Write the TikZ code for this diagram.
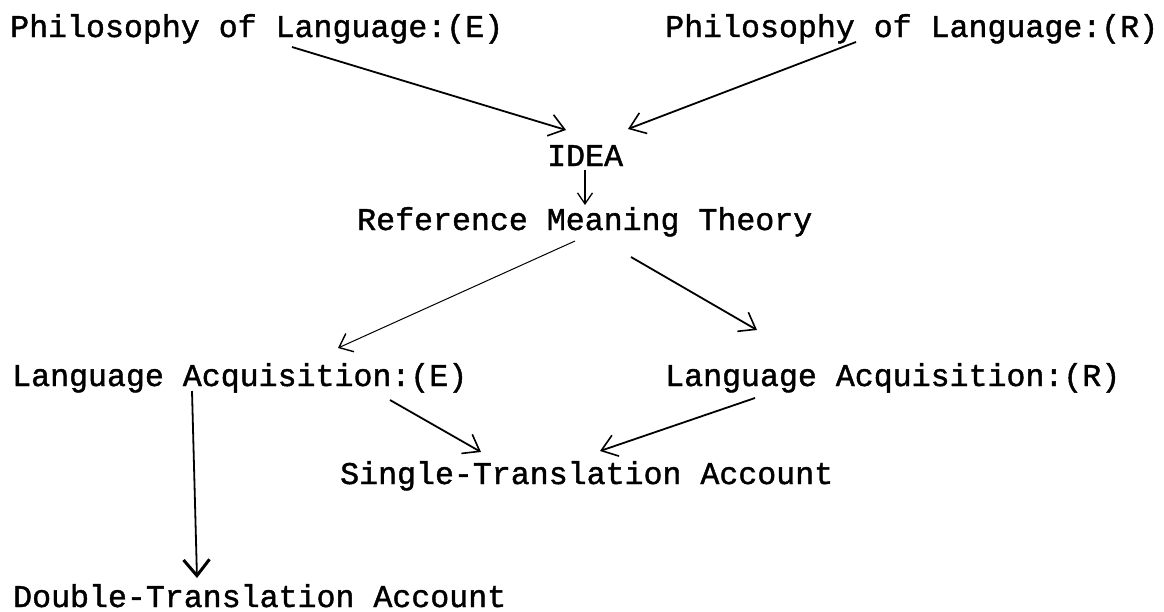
\documentclass[tikz,border=0pt]{standalone}
\usepackage{fontspec}
\setmainfont[RawFeature={embolden=1.3}]{Liberation Mono}
\usetikzlibrary{arrows.meta,calc}
\tikzset{
  lbl/.style={anchor=base west, inner sep=0pt, font=\fontsize{31.6}{34}\selectfont},
  arr/.style={line width=1.8pt, -{Straight Barb[length=15pt,width=22pt,line width=1.6pt]}},
  thinarr/.style={line width=1pt, -{Straight Barb[length=12pt,width=20pt,line width=1.4pt]}},
  smallarr/.style={line width=1.3pt, -{Straight Barb[length=11pt,width=15pt,line width=1.3pt]}},
  heavyarr/.style={line width=1.8pt, -{Straight Barb[length=16pt,width=26pt,line width=3pt]}}
}
\begin{document}
\begin{tikzpicture}[x=1pt,y=-1pt]
\useasboundingbox (0,0) rectangle (1164,611);
\node[lbl] (PE) at (10,37) {Philosophy of Language:(E)};
\node[lbl] (PR) at (665,37) {Philosophy of Language:(R)};
\node[lbl] (IDEA) at (547,166) {IDEA};
\node[lbl] (RMT) at (357,230) {Reference Meaning Theory};
\node[lbl] (LAE) at (12,386) {Language Acquisition:(E)};
\node[lbl] (LAR) at (665,386) {Language Acquisition:(R)};
\node[lbl] (STA) at (340,484) {Single-Translation Account};
\node[lbl] (DTA) at (13,607) {Double-Translation Account};

\draw[arr] ($(PE.base west)+(282,10)$) -- ($(IDEA.base west)+(19,-36)$);
\draw[arr] ($(PR.base west)+(191,5)$) -- ($(IDEA.base west)+(81,-37)$);
\draw[smallarr] ($(IDEA.base west)+(38,4)$) -- ($(RMT.base west)+(228,-25)$);
\draw[thinarr] ($(RMT.base west)+(218,11)$) -- ($(LAE.base west)+(326,-38)$);
\draw[arr] ($(RMT.base west)+(274,27)$) -- ($(LAR.base west)+(92,-56)$);
\draw[arr] ($(LAE.base west)+(378,14)$) -- ($(STA.base west)+(141,-32)$);
\draw[arr] ($(LAR.base west)+(90,12)$) -- ($(STA.base west)+(260,-33)$);
\draw[heavyarr] ($(LAE.base west)+(180,5)$) -- ($(DTA.base west)+(184,-29)$);
\end{tikzpicture}
\end{document}
